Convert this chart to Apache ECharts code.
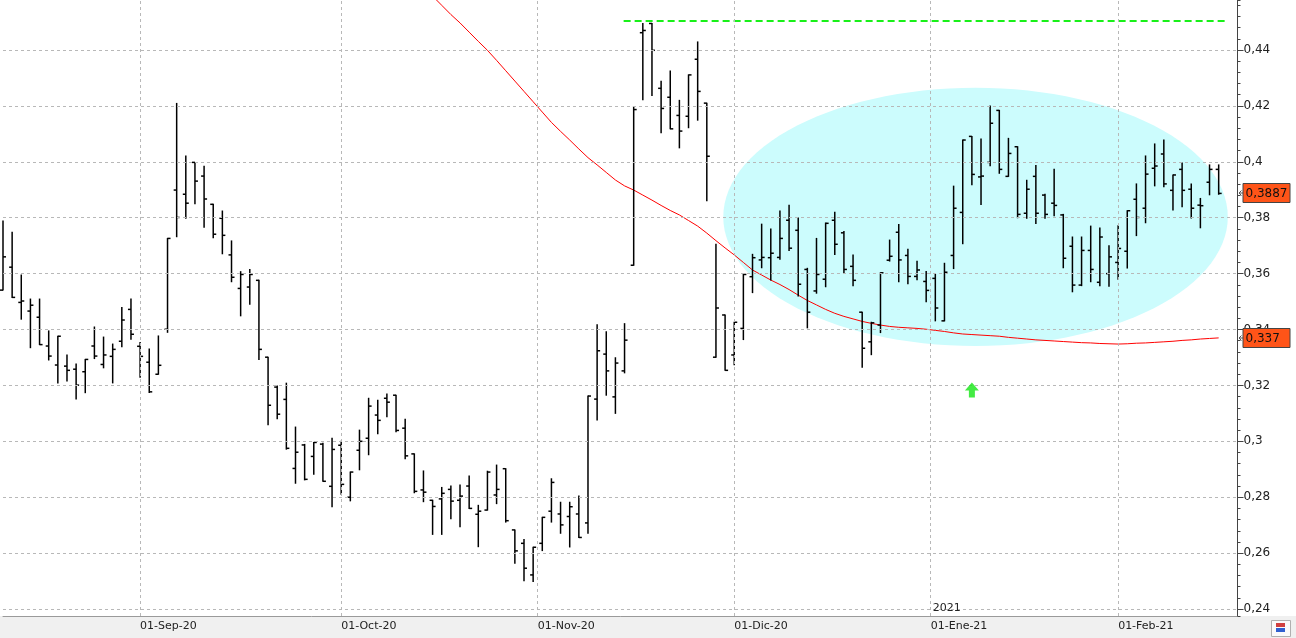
<!DOCTYPE html>
<html>
<head>
<meta charset="utf-8">
<script src="https://cdn.jsdelivr.net/npm/echarts@6.0.0/dist/echarts.min.js"></script>
<style>
  html, body { margin: 0; padding: 0; background: #ffffff; }
  #chart { width: 1296px; height: 638px; }
</style>
</head>
<body>
<div id="chart"></div>
<script>
// ---------- DATA ----------
const dates = [].concat(
  '11 12 13 14 17 18 19 20 21 24 25 26 27 28 31'.split(' ').map(d => '2020-08-' + d),
  '01 02 03 04 07 08 09 10 11 14 15 16 17 18 21 22 23 24 25 28 29 30'.split(' ').map(d => '2020-09-' + d),
  '01 02 05 06 07 08 09 12 13 14 15 16 19 20 21 22 23 26 27 28 29 30'.split(' ').map(d => '2020-10-' + d),
  '02 03 04 05 06 09 10 11 12 13 16 17 18 19 20 23 24 25 26 27 30'.split(' ').map(d => '2020-11-' + d),
  '01 02 03 04 07 08 09 10 11 14 15 16 17 18 21 22 23 24 28 29 30 31'.split(' ').map(d => '2020-12-' + d),
  '04 05 06 07 08 11 12 13 14 15 18 19 20 21 22 25 26 27 28 29'.split(' ').map(d => '2021-01-' + d),
  '01 02 03 04 05 08 09 10 11 12 15 16'.split(' ').map(d => '2021-02-' + d)
);

const openP = [
  .3541,.3623,.3497,.3466,.3444,.3341,.3273,.3269,.3258,.3249,.3341,.3275,.3304,.3358,.3472,
  .3340,.3283,.3240,.3401,.3899,.3884,.3998,.3949,.3848,.3798,.3667,.3547,.3552,.3576,.3301,.3194,.3150,.2903,.2987,.2946,.2990,.2839,
  .2986,.2800,.2968,.3011,.3094,.3154,.3165,.3047,.2955,.2826,.2789,.2794,.2828,.2789,.2840,.2739,.2754,.2808,.2902,.2683,.2635,.2522,
  .2635,.2750,.2740,.2731,.2740,.2708,.3151,.3312,.3159,.3252,.3630,.4462,.4495,.4263,.4231,.4166,.4163,.4367,.4210,.3301,.3452,
  .3309,.3404,.3589,.3649,.3657,.3658,.3791,.3755,.3615,.3538,.3580,.3791,.3746,.3626,.3462,.3356,.3416,.3648,.3748,.3665,.3590,.3572,
  .3583,.3431,.3665,.3819,.4091,.3946,.3998,.4184,.3948,.4054,.3816,.3948,.3881,.3852,.3810,.3698,.3559,.3683,.3569,.3600,
  .3640,.3680,.3866,.3834,.3977,.4028,.3898,.3973,.3902,.3845,.3927,.3973
];
const highP = [
  .3788,.3748,.3595,.3509,.3509,.3395,.3376,.3309,.3277,.3293,.3409,.3373,.3348,.3479,.3509,
  .3354,.3330,.3377,.3726,.4209,.4021,.3998,.3984,.3848,.3824,.3717,.3607,.3615,.3576,.3301,.3198,.3208,.3051,.2989,.2996,.2993,.3011,
  .3000,.2890,.3040,.3154,.3147,.3169,.3165,.3079,.2955,.2894,.2789,.2835,.2840,.2844,.2876,.2771,.2893,.2915,.2902,.2683,.2649,.2621,
  .2728,.2866,.2782,.2782,.2804,.3162,.3417,.3392,.3299,.3421,.4198,.4495,.4495,.4288,.4325,.4220,.4311,.4429,.4210,.3705,.3452,
  .3426,.3597,.3669,.3777,.3760,.3824,.3845,.3799,.3619,.3726,.3781,.3820,.3751,.3667,.3462,.3426,.3603,.3720,.3776,.3687,.3644,.3608,
  .3597,.3637,.3913,.4078,.4091,.4082,.4200,.4184,.4084,.4054,.3934,.3987,.3884,.3973,.3812,.3731,.3731,.3770,.3763,.3700,
  .3771,.3825,.3921,.4021,.4064,.4078,.3953,.3996,.3921,.3869,.3989,.3989
];
const lowP = [
  .3541,.3515,.3437,.3335,.3346,.3291,.3209,.3216,.3151,.3174,.3296,.3263,.3209,.3338,.3365,
  .3229,.3175,.3240,.3390,.3732,.3798,.3850,.3766,.3728,.3671,.3571,.3449,.3490,.3293,.3059,.3081,.2972,.2850,.2862,.2882,.2857,.2766,
  .2811,.2787,.2898,.2952,.3027,.3088,.3034,.2938,.2816,.2784,.2667,.2667,.2723,.2694,.2760,.2623,.2754,.2777,.2711,.2564,.2501,.2498,
  .2609,.2711,.2671,.2622,.2656,.2671,.3076,.3165,.3100,.3245,.3630,.4222,.4237,.4104,.4118,.4050,.4122,.4149,.3861,.3301,.3254,
  .3274,.3364,.3532,.3621,.3577,.3651,.3683,.3520,.3406,.3530,.3553,.3668,.3603,.3557,.3265,.3310,.3389,.3645,.3571,.3564,.3578,.3499,
  .3431,.3431,.3618,.3707,.3918,.3847,.3986,.3959,.3948,.3800,.3798,.3779,.3798,.3807,.3621,.3535,.3557,.3571,.3557,.3555,
  .3580,.3620,.3736,.3782,.3914,.3911,.3828,.3839,.3799,.3764,.3882,.3884
];
const closeP = [
  .3660,.3515,.3502,.3487,.3346,.3305,.3376,.3254,.3201,.3293,.3305,.3309,.3329,.3434,.3383,
  .3304,.3177,.3272,.3726,.3801,.3852,.3931,.3867,.3741,.3737,.3587,.3597,.3597,.3329,.3129,.3097,.2975,.2961,.2864,.2996,.2857,.2971,
  .2846,.2890,.3000,.3126,.3075,.3140,.3039,.2948,.2821,.2818,.2767,.2814,.2786,.2804,.2760,.2750,.2890,.2828,.2716,.2608,.2546,.2621,
  .2728,.2853,.2701,.2766,.2656,.3162,.3324,.3252,.3280,.3362,.4187,.4470,.4399,.4191,.4118,.4110,.4311,.4252,.4020,.3477,.3254,
  .3426,.3597,.3657,.3658,.3673,.3726,.3691,.3562,.3462,.3597,.3780,.3705,.3615,.3576,.3333,.3424,.3603,.3662,.3649,.3590,.3613,.3540,
  .3477,.3605,.3834,.4078,.3955,.3949,.4138,.3973,.4030,.3812,.3902,.3816,.3812,.3844,.3655,.3559,.3683,.3615,.3731,.3660,
  .3690,.3825,.3801,.3956,.3985,.3921,.3953,.3898,.3834,.3843,.3973,.3887
];
// moving average (red line); values before index 47 lie above the visible range
const maValues = [
  null,null,null,null,null,null,null,null,null,null,null,null,null,null,null,
  null,null,null,null,null,null,null,null,null,null,null,null,null,null,null,null,null,null,null,null,null,null,
  null,null,null,null,null,null,null,null,null,null,.4593,.4560,.4527,.4497,.4464,.4431,.4399,.4363,.4326,.4289,.4252,.4215,
  .4178,.4141,.4109,.4078,.4046,.4015,.3989,.3962,.3935,.3914,.3899,.3881,.3863,.3844,.3826,.3810,.3790,.3770,.3745,.3718,.3692,
  .3667,.3640,.3613,.3595,.3577,.3561,.3543,.3523,.3504,.3488,.3472,.3458,.3447,.3438,.3429,.3422,.3416,.3411,.3408,.3406,.3404,.3401,
  .3397,.3393,.3388,.3384,.3382,.3380,.3378,.3376,.3372,.3369,.3366,.3363,.3361,.3359,.3357,.3355,.3353,.3352,.3350,.3349,
  .3348,.3349,.3351,.3352,.3354,.3356,.3358,.3361,.3363,.3366,.3368,.3370
];
const yGridValues = [0.24, 0.26, 0.28, 0.30, 0.32, 0.34, 0.36, 0.38, 0.40, 0.42, 0.44];
const resistanceLevel = 0.4504;           // green dashed line
const resistanceSpan = [67.9, 134.0];     // bar-index range of the green line
const zoneEllipse = { cx: 106.4, cy: 0.3803, rx: 27.6, ry: 0.0462 }; // cyan zone (data units)
const signalArrow = [[106, 0.3184]];      // green arrow
const monthNames = ['Ene','Feb','Mar','Abr','May','Jun','Jul','Ago','Sep','Oct','Nov','Dic'];
const lastClose = closeP[closeP.length - 1];
const lastMA = 0.337;

// ---------- DERIVED ----------
const ohlc = dates.map((d, i) => [i, openP[i], highP[i], lowP[i], closeP[i]]);
const maData = maValues.map((v, i) => [i, v]);
const monthTicks = [];
for (let i = 1; i < dates.length; i++) {
  const m = dates[i].slice(5, 7), pm = dates[i - 1].slice(5, 7);
  if (m !== pm) {
    const day = +dates[i].slice(8, 10);
    const pos = day === 1 ? i : i - 0.5;
    const mon = monthNames[+m - 1];
    monthTicks.push({ pos, label: '01-' + mon + '-' + dates[i].slice(2, 4), newYear: m === '01' ? dates[i].slice(0, 4) : null });
  }
}
const labelMap = {};
monthTicks.forEach(t => { labelMap[t.pos.toFixed(1)] = t.label; });
const fmt = v => String(+v.toFixed(4)).replace('.', ',');

const FONT = 'DejaVu Sans';
const Y_MIN = 0.2375, Y_MAX = 0.4579;
const GRID_STYLE = { color: '#b8b8b8', type: [3, 3], width: 1 };
const chart = echarts.init(document.getElementById('chart'), null, { renderer: 'canvas' });

chart.setOption({
  animation: false,
  backgroundColor: '#ffffff',
  graphic: [
    { type: 'rect', left: 0, top: 616, shape: { width: 1296, height: 22 }, style: { fill: '#f0f0f0' }, z: -10, silent: true },
    { type: 'rect', left: 1271, top: 620, shape: { width: 19, height: 16 }, style: { fill: '#fafafa', stroke: '#b0b0b0' }, z: 20, silent: true },
    { type: 'rect', left: 1276, top: 623, shape: { width: 9, height: 4 }, style: { fill: '#d04040' }, z: 21, silent: true },
    { type: 'rect', left: 1276, top: 628, shape: { width: 9, height: 4 }, style: { fill: '#3060d0' }, z: 21, silent: true }
  ],
  grid: { left: 1.3, right: 58.5, top: 0, bottom: 22, containLabel: false },
  xAxis: {
    type: 'value',
    min: 0, max: 135.06, interval: 0.5,
    axisLine: { show: true, onZero: false, lineStyle: { color: '#9a9a9a', width: 1 } },
    axisTick: { show: false },
    splitLine: { show: false },
    axisLabel: {
      show: true, margin: 5, align: 'left', color: '#222', fontSize: 11, fontFamily: FONT,
      showMinLabel: true, showMaxLabel: false,
      formatter: v => labelMap[(+v).toFixed(1)] || ''
    }
  },
  yAxis: [
    {
      type: 'value', position: 'right',
      min: Y_MIN, max: Y_MAX, minInterval: 0.02, maxInterval: 0.02,
      axisLine: { show: true, onZero: false, lineStyle: { color: '#444', width: 1 } },
      axisTick: { show: true, inside: false, length: 6, lineStyle: { color: '#444' } },
      splitLine: { show: false },
      axisLabel: {
        margin: 6, color: '#222', fontSize: 12, fontFamily: FONT,
        showMinLabel: false, showMaxLabel: false,
        formatter: v => fmt(v)
      }
    },
    { // minor ticks
      type: 'value', position: 'right',
      min: Y_MIN, max: Y_MAX, minInterval: 0.004, maxInterval: 0.004,
      axisLine: { show: false, onZero: false },
      axisTick: { show: true, inside: false, length: 3, lineStyle: { color: '#444' } },
      splitLine: { show: false },
      axisLabel: { show: false }
    }
  ],
  series: [
    { // cyan zone ellipse + grid lines
      type: 'custom', z: -1, silent: true,
      data: [[zoneEllipse.cx, zoneEllipse.cy, zoneEllipse.rx, zoneEllipse.ry]],
      encode: { x: 0, y: 1 },
      renderItem: (params, api) => {
        const cx = api.value(0), cy = api.value(1), rx = api.value(2), ry = api.value(3);
        const pts = [];
        for (let k = 0; k < 120; k++) {
          const t = k / 120 * Math.PI * 2;
          pts.push(api.coord([cx + rx * Math.cos(t), cy + ry * Math.sin(t)]));
        }
        return { type: 'polygon', shape: { points: pts }, style: { fill: '#ccfcfd', stroke: null } };
      },
      markLine: {
        silent: true, symbol: ['none', 'none'], animation: false,
        label: { show: false },
        lineStyle: GRID_STYLE,
        data: monthTicks.map(t => ({ xAxis: t.pos })).concat(yGridValues.map(v => ({ yAxis: v })))
      }
    },
    { // moving average
      type: 'line', data: maData, showSymbol: false, symbol: 'none', clip: true,
      lineStyle: { color: '#ff0000', width: 1 }, z: 3, silent: true
    },
    { // resistance line
      type: 'line', data: [[resistanceSpan[0], resistanceLevel], [resistanceSpan[1], resistanceLevel]],
      showSymbol: false, symbol: 'none', silent: true, z: 3,
      lineStyle: { color: '#19f019', width: 2, type: [7, 4] }
    },
    { // OHLC bars
      type: 'custom', z: 4, silent: true,
      data: ohlc,
      encode: { x: 0, y: [1, 2, 3, 4] },
      renderItem: (params, api) => {
        const x = api.value(0);
        const pH = api.coord([x, api.value(2)]);
        const pL = api.coord([x, api.value(3)]);
        const pO = api.coord([x, api.value(1)]);
        const pC = api.coord([x, api.value(4)]);
        const xx = pH[0];
        const tw = 3;
        const st = { stroke: '#000', lineWidth: 1.5 };
        return {
          type: 'group',
          children: [
            { type: 'line', shape: { x1: xx, y1: pH[1] - 0.5, x2: xx, y2: pL[1] + 0.5 }, style: st },
            { type: 'line', shape: { x1: xx - tw, y1: pO[1], x2: xx, y2: pO[1] }, style: st },
            { type: 'line', shape: { x1: xx, y1: pC[1], x2: xx + tw, y2: pC[1] }, style: st }
          ]
        };
      }
    },
    { // green signal arrow
      type: 'scatter', data: signalArrow, silent: true, z: 5,
      symbol: 'path://M7,0 L14,8 L10,8 L10,15 L4,15 L4,8 L0,8 Z',
      symbolSize: [14, 15],
      itemStyle: { color: '#14e614' }
    },
    { // year label
      type: 'custom', z: 5, silent: true,
      data: monthTicks.filter(t => t.newYear).map(t => [t.pos, Y_MIN, t.newYear]),
      encode: { x: 0, y: 1 },
      renderItem: (params, api) => {
        const p = api.coord([api.value(0), api.value(1)]);
        return { type: 'text', x: p[0] + 2, y: p[1] - 2,
          style: { text: String(api.value(2)), fill: '#222', font: '11px ' + FONT, textAlign: 'left', textVerticalAlign: 'bottom' } };
      }
    },
    { // price tags on the right axis
      type: 'custom', z: 10, silent: true, clip: false,
      data: [[133, lastClose], [133, lastMA]],
      encode: { x: 0, y: 1 },
      renderItem: (params, api) => {
        const p = api.coord([api.value(0), api.value(1)]);
        const ax = params.coordSys.x + params.coordSys.width;
        const y = Math.round(p[1]);
        return {
          type: 'group',
          children: [
            { type: 'polyline', shape: { points: [[ax + 6, y], [ax + 1.5, y]] }, style: { stroke: '#555', lineWidth: 1 } },
            { type: 'polyline', shape: { points: [[ax + 4, y - 2.5], [ax + 1.5, y], [ax + 4, y + 2.5]] }, style: { stroke: '#555', lineWidth: 1, fill: null } },
            { type: 'rect', shape: { x: ax + 5.5, y: y - 9.5, width: 47, height: 19 }, style: { fill: '#ff5418', stroke: '#444', lineWidth: 1 } },
            { type: 'text', x: ax + 8, y: y + 0.5, style: { text: fmt(api.value(1)), fill: '#111', font: '12px ' + FONT, textAlign: 'left', textVerticalAlign: 'middle' } }
          ]
        };
      }
    }
  ]
});
</script>
</body>
</html>
